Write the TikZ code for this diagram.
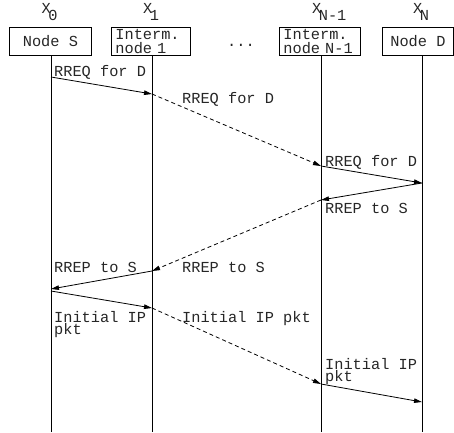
\documentclass[tikz,border=0pt]{standalone}
\usepackage{fontspec}
\newfontfamily\monof{Liberation Mono}
\usetikzlibrary{arrows.meta}
\begin{document}
\begin{tikzpicture}[x=1pt,y=-1pt,
  txt/.style={font={\monof\fontsize{15.3pt}{12pt}\selectfont},inner sep=0pt,text=black!85},
  lbl/.style={txt,anchor=base west,align=left},
  box/.style={draw,line width=0.8pt,minimum height=28pt,anchor=north west,inner ysep=0pt,
    text=black!85,font={\monof\fontsize{15.3pt}{14.5pt}\selectfont}},
  life/.style={line width=0.8pt},
  msg/.style={line width=0.8pt,-{Triangle[length=8pt,width=4.5pt]}},
  dmsg/.style={msg,dash pattern=on 4pt off 3pt}]
\useasboundingbox (0,0) rectangle (454,432);
% headers
\node[txt,anchor=base west] (x0) at (41.5,13) {X\kern-2.5pt\raisebox{-7.5pt}{0}};
\node[txt,anchor=base west] (x1) at (143,13) {X\kern-2.5pt\raisebox{-7.5pt}{1}};
\node[txt,anchor=base west] (xn1) at (312,13) {X\kern-2.5pt\raisebox{-7.5pt}{N-1}};
\node[txt,anchor=base west] (xn) at (413,13) {X\kern-2.5pt\raisebox{-7.5pt}{N}};
% boxes
\node[box,minimum width=82pt] (S) at (9,27) {Node S};
\node[box,text width=71pt,inner xsep=4pt,align=left] (I1) at (111,27) {Interm.\\node 1};
\node[txt,anchor=base] (dots) at (241,46) {...};
\node[box,text width=73pt,inner xsep=4pt,align=left] (IN) at (279,27) {Interm.\\node N-1};
\node[box,minimum width=71pt] (D) at (382,27) {Node D};
% lifelines
\coordinate (Sb) at (51,432);
\coordinate (I1b) at (152,432);
\coordinate (INb) at (321,432);
\coordinate (Db) at (422,432);
\draw[life] (S.south -| Sb) -- (Sb);
\draw[life] (I1.south -| I1b) -- (I1b);
\draw[life] (IN.south -| INb) -- (INb);
\draw[life] (D.south -| Db) -- (Db);
% message points
\coordinate (p1) at (51,77);
\coordinate (p2) at (152,94);
\coordinate (p3) at (321,166);
\coordinate (p4) at (422,183);
\coordinate (p5) at (321,200);
\coordinate (p6) at (152,271);
\coordinate (p7) at (51,289);
\coordinate (p8) at (51,291);
\coordinate (p9) at (152,308);
\coordinate (p10) at (321,384);
\coordinate (p11) at (422,402);
\draw[msg] (p1) -- (p2);
\draw[dmsg] (p2) -- (p3);
\draw[msg] (p3) -- (p4);
\draw[msg] (p4) -- (p5);
\draw[dmsg] (p5) -- (p6);
\draw[msg] (p6) -- (p7);
\draw[msg] (p8) -- (p9);
\draw[dmsg] (p9) -- (p10);
\draw[msg] (p10) -- (p11);
% labels
\node[lbl] (l1) at (54,76) {RREQ for D};
\node[lbl] (l2) at (182,103) {RREQ for D};
\node[lbl] (l3) at (325,166) {RREQ for D};
\node[lbl] (l4) at (325,213) {RREP to S};
\node[lbl] (l5) at (182,272) {RREP to S};
\node[lbl] (l6) at (54,272) {RREP to S};
\node[lbl] (l7) at (54,334) {Initial IP\\pkt};
\node[lbl] (l8) at (182,322) {Initial IP pkt};
\node[lbl] (l9) at (325,381) {Initial IP\\pkt};
\end{tikzpicture}
\end{document}
